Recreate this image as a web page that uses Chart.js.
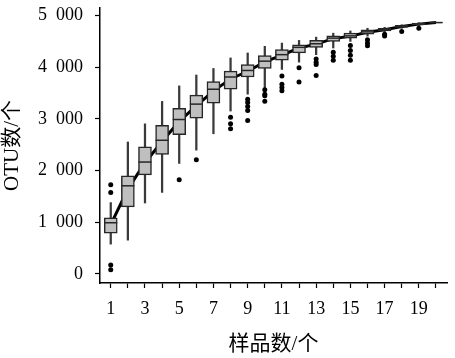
<!DOCTYPE html>
<html lang="zh">
<head>
<meta charset="UTF-8">
<script src="https://cdn.jsdelivr.net/npm/chart.js"></script>
<style>
  body { margin: 0; background: #fff; }
  #wrap { width: 455px; height: 358px; }
</style>
</head>
<body>
<div id="wrap"><canvas id="myChart" width="455" height="358"></canvas></div>
<script>
// 样品数 1..20
let samples = [1,2,3,4,5,6,7,8,9,10,11,12,13,14,15,16,17,18,19,20];
let whiskerLow  = [574, 651, 1370, 1575, 2136, 2393, 2710, 3150, 3476, 3572, 3955, 4096, 4241, 4370, 4498, 4600, 4680, 4750, 4800, 4862];
let q1          = [785, 1294, 1914, 2308, 2691, 3011, 3304, 3572, 3809, 3974, 4134, 4274, 4383, 4498, 4561, 4638, 4700, 4770, 4820, 4855];
let medians     = [988, 1703, 2163, 2584, 2986, 3284, 3572, 3809, 3935, 4115, 4241, 4383, 4452, 4561, 4605, 4682, 4726, 4790, 4835, 4862];
let q3          = [1083, 1895, 2456, 2871, 3202, 3457, 3719, 3923, 4050, 4222, 4337, 4433, 4517, 4605, 4657, 4720, 4752, 4810, 4850, 4869];
let whiskerHigh = [1378, 2551, 2902, 3336, 3637, 3847, 3974, 4178, 4274, 4402, 4465, 4517, 4580, 4657, 4700, 4752, 4770, 4820, 4860, 4869];
let means       = [950, 1640, 2150, 2560, 2950, 3250, 3540, 3770, 3920, 4100, 4230, 4370, 4445, 4550, 4600, 4675, 4722, 4785, 4832, 4862];
// 离群点
let outliers = [
  [1723, 1575, 172, 77],
  [],
  [],
  [],
  [1818],
  [2207],
  [],
  [3030, 2902, 2806],
  [3380, 3317, 3240, 3158, 2967],
  [3560, 3476, 3445, 3340],
  [3828, 3667, 3604, 3541],
  [3987, 3713],
  [4159, 4096, 4050, 3840],
  [4287, 4211, 4134],
  [4420, 4320, 4230, 4135],
  [4529, 4466, 4414],
  [4638, 4600],
  [4690],
  [4750],
  []
];
let yTickValues = [0, 1000, 2000, 3000, 4000, 5000];
let yTickLabels = ['0', '1\u2002000', '2\u2002000', '3\u2002000', '4\u2002000', '5\u2002000'];
let xTickLabels = ['1', '3', '5', '7', '9', '11', '13', '15', '17', '19'];

let serif = "'Liberation Serif', 'Times New Roman', 'Noto Sans CJK SC', serif";

let boxData = samples.map((s, i) => ({ x: s, y: [q1[i], q3[i]] }));
let whiskerData = samples.map((s, i) => ({ x: s, y: [whiskerLow[i], whiskerHigh[i]] }));
let medianData = samples.map((s, i) => ({ x: s, y: medians[i] }));
let meanData = samples.map((s, i) => ({ x: s, y: means[i] }));
let outlierData = [];
samples.forEach((s, i) => outliers[i].forEach(v => outlierData.push({ x: s, y: v })));

let ctx = document.getElementById('myChart');
let myChart = new Chart(ctx, {
  type: 'bar',
  data: {
    datasets: [
      {
        type: 'line', label: 'mean', data: meanData, order: 5,
        borderColor: '#000', borderWidth: 3, pointRadius: 0, tension: 0
      },
      {
        type: 'bar', label: 'whisker', data: whiskerData, order: 4, grouped: false,
        backgroundColor: '#3a3a3a', barThickness: 1.6, borderWidth: 0
      },
      {
        type: 'bar', label: 'box', data: boxData, order: 3, grouped: false,
        backgroundColor: '#bfbfbf', borderColor: '#262626', borderWidth: 1.5,
        borderSkipped: false, barThickness: 13
      },
      {
        type: 'line', label: 'median', data: medianData, order: 2, showLine: false,
        pointStyle: 'line', pointRadius: 6.5, pointBorderWidth: 1.5,
        pointBorderColor: '#262626', pointBackgroundColor: '#262626'
      },
      {
        type: 'line', label: 'outlier', data: outlierData, order: 1, showLine: false,
        pointStyle: 'circle', pointRadius: 2.5, pointBorderWidth: 0,
        pointBackgroundColor: '#000', pointBorderColor: '#000'
      }
    ]
  },
  options: {
    responsive: false,
    animation: false,
    layout: { padding: { top: 5, right: 0, left: 0, bottom: 0 } },
    plugins: { legend: { display: false }, tooltip: { enabled: false } },
    scales: {
      x: {
        type: 'linear', min: 0.372, max: 20.645, offset: false,
        grid: { display: true, drawOnChartArea: false, drawTicks: true, tickLength: 5, tickColor: '#000', tickWidth: 1.2, offset: false },
        border: { display: true, color: '#000', width: 1.5 },
        ticks: {
          autoSkip: false, maxRotation: 0,
          color: '#000', padding: 10, font: { family: serif, size: 18 },
          callback: (v) => xTickLabels.includes(String(v)) ? String(v) : ''
        },
        afterBuildTicks: (s) => { s.ticks = samples.map(v => ({ value: v })); },
        title: { display: true, text: '样品数/个', color: '#000', font: { family: serif, size: 21 }, padding: { top: 4, bottom: 1 } },
        afterFit: (s) => { s.height = 75; s.paddingLeft = 0; s.paddingRight = 0; }
      },
      y: {
        min: -178, max: 5144,
        grid: { display: true, drawOnChartArea: false, drawTicks: true, tickLength: 5, tickColor: '#000', tickWidth: 1.2 },
        border: { display: true, color: '#000', width: 1.5 },
        ticks: {
          color: '#000', padding: 12, autoSkip: false,
          font: { family: serif, size: 18 },
          callback: (v) => yTickLabels[yTickValues.indexOf(v)]
        },
        afterBuildTicks: (s) => { s.ticks = yTickValues.map(v => ({ value: v })); },
        title: { display: true, text: 'OTU数/个', color: '#000', font: { family: serif, size: 21 }, padding: { top: 0, bottom: 0 } },
        afterFit: (s) => { s.width = 100; s.paddingTop = 0; s.paddingBottom = 0; }
      }
    }
  }
});
</script>
</body>
</html>
